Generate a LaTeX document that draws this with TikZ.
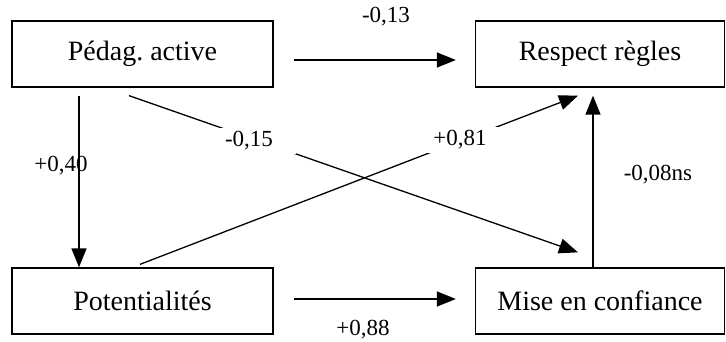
\documentclass[tikz,border=0pt]{standalone}
\usepackage{fontspec}
\setmainfont{Liberation Serif}
\usetikzlibrary{arrows.meta}
\tikzset{
  boite/.style={draw, line width=1.3pt, minimum height=66pt, inner sep=0pt,
    font=\fontsize{28}{32}\selectfont},
  coef/.style={inner sep=0pt, font=\fontsize{23}{26}\selectfont},
  lien/.style={line width=1.3pt, -{Triangle[length=19pt,width=15pt]}}
}
\begin{document}
\begin{tikzpicture}[x=1pt,y=-1pt]
\useasboundingbox (0,0) rectangle (726,342);
\node[boite, minimum width=261pt] (pa) at (142.5,54) {Pédag.\ active};
\node[boite, minimum width=249pt] (rr) at (600,54) {Respect règles};
\node[boite, minimum width=261pt] (po) at (142.5,301) {Potentialités};
\node[boite, minimum width=249pt] (mc) at (600,301) {Mise en confiance};
% liens
\draw[lien] ([xshift=20pt,yshift=-6pt]pa.east) -- ([xshift=-19pt,yshift=-6pt]rr.west);
\draw[lien] ([xshift=-63.5pt,yshift=-8pt]pa.south) -- ([xshift=-63.5pt]po.north);
\draw[lien] ([xshift=-13.5pt,yshift=-8pt]pa.south) -- ([xshift=-22pt,yshift=15pt]mc.north);
\draw[lien] ([xshift=-2.5pt,yshift=3pt]po.north) -- ([xshift=-22pt,yshift=-8pt]rr.south);
\draw[lien] ([xshift=-7pt]mc.north) -- ([xshift=-7pt,yshift=-8pt]rr.south);
\draw[lien] ([xshift=20pt,yshift=2pt]po.east) -- ([xshift=-19pt,yshift=2pt]mc.west);
% coefficients
\node[coef] (c1) at (386,17) {-0,13};
\node[coef] (c2) at (61,166) {+0,40};
\node[coef, fill=white, inner xsep=23pt, inner ysep=4pt] (c3) at (249,141) {-0,15};
\node[coef, fill=white, inner xsep=27pt, inner ysep=4pt] (c4) at (460,140) {+0,81};
\node[coef] (c5) at (658,175) {-0,08ns};
\node[coef] (c6) at (363,330) {+0,88};
\end{tikzpicture}
\end{document}
